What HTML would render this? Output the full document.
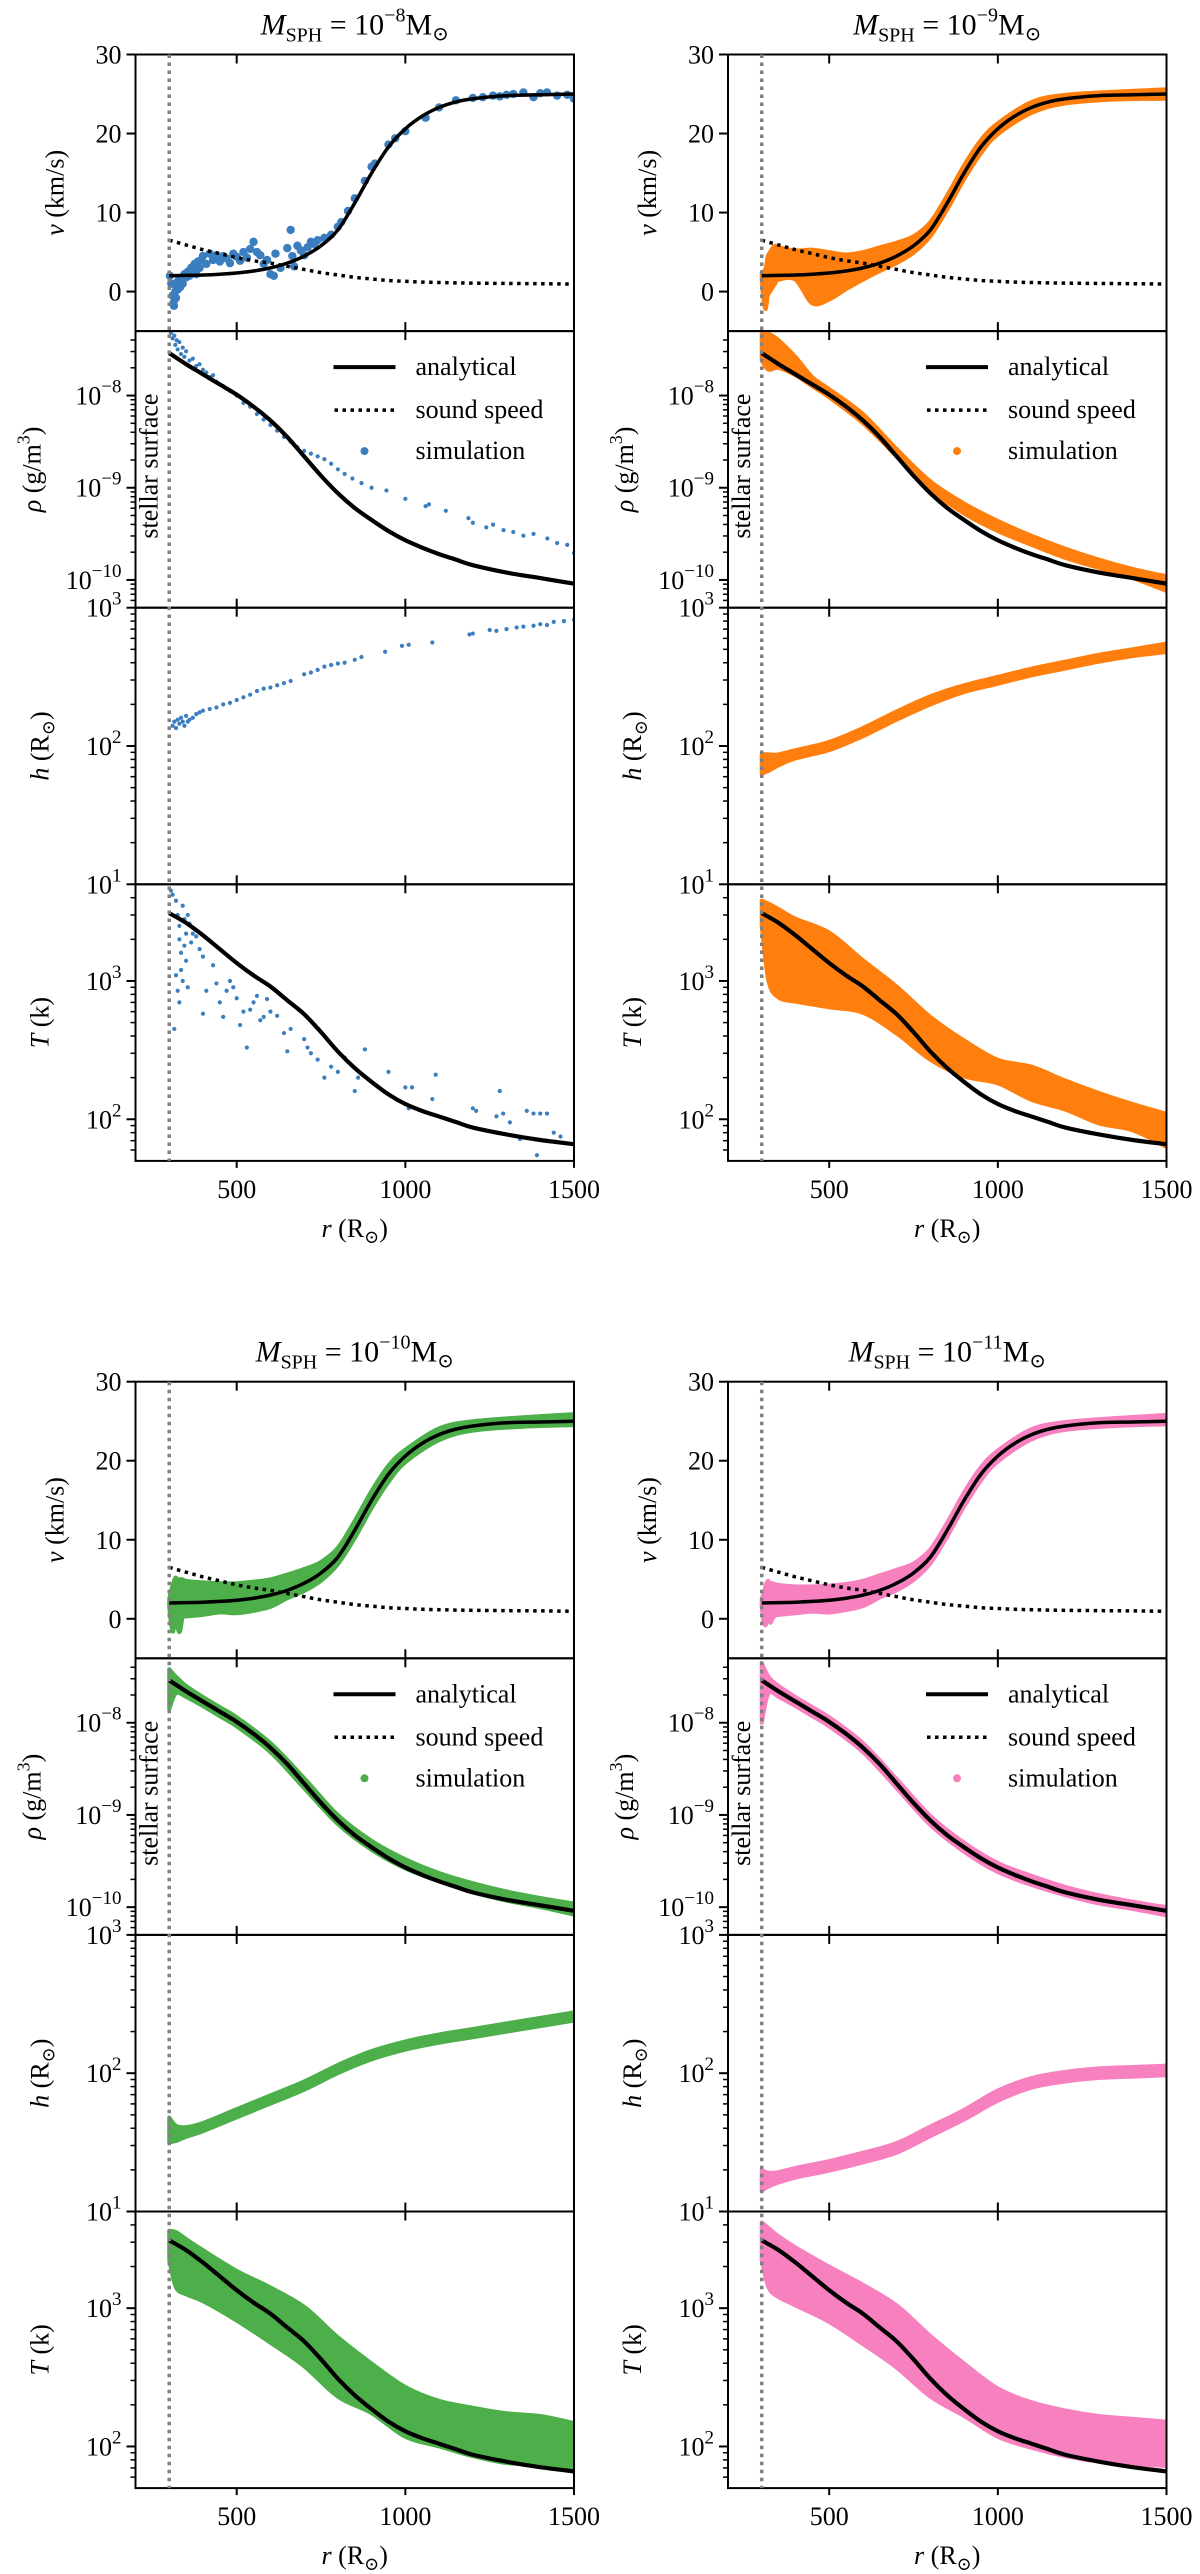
<!DOCTYPE html>
<html><head><meta charset="utf-8"><style>
html,body{margin:0;padding:0;background:#fff;}
svg{display:block;font-family:"Liberation Serif","DejaVu Serif",serif;}
</style></head><body>
<svg id="fig" width="1200" height="2574" viewBox="0 0 1200 2574" xmlns="http://www.w3.org/2000/svg">
<rect x="0" y="0" width="1200" height="2574" fill="#fff"/>
<defs id="defs"></defs>
</svg>
<script>
// ---------- analytical solution (shared) ----------
const rGrid = [300,350,400,450,500,550,600,650,700,750,800,850,900,950,1000,1050,1100,1150,1200,1300,1400,1500];
const vAnalytic = [2.0,2.05,2.1,2.2,2.35,2.6,3.0,3.6,4.5,5.8,7.8,11.2,15.0,18.3,20.6,22.2,23.3,24.0,24.4,24.8,24.9,25.0];
const csAnalytic = [6.5,5.9,5.3,4.8,4.3,3.9,3.6,3.2,2.8,2.4,2.1,1.8,1.6,1.4,1.3,1.2,1.15,1.1,1.07,1.03,1.0,0.95];
const logRhoAnalytic = [-7.54,-7.66,-7.77,-7.88,-7.99,-8.12,-8.27,-8.45,-8.66,-8.87,-9.06,-9.22,-9.35,-9.47,-9.57,-9.65,-9.72,-9.78,-9.84,-9.92,-9.98,-10.04];
const logTAnalytic = [3.49,3.42,3.33,3.23,3.13,3.04,2.96,2.86,2.76,2.63,2.49,2.37,2.27,2.18,2.11,2.06,2.02,1.98,1.94,1.89,1.85,1.82];

// ---------- tick labels ----------
const xTicks = [500,1000,1500];
const vTicks = [0,10,20,30];
const rhoTickExps = [-8,-9,-10];
const hTickExps = [1,2,3];
const tTickExps = [2,3];

// ---------- M=1e-8 (blue, sparse points) ----------
const blueV = [[302,2.0],[306,1.0],[310,-0.5],[312,-1.5],[314,-1.8],[316,-1.0],[318,0.0],[320,-0.8],[322,0.5],[324,1.2],[326,0.3],[328,1.0],[330,1.6],[333,0.6],[336,1.5],[340,1.0],[345,2.2],[350,1.8],[355,2.5],[360,2.0],[365,3.0],[370,2.5],[375,3.5],[380,2.2],[385,3.8],[390,3.0],[395,4.0],[400,4.5],[410,3.5],[420,4.8],[430,4.0],[440,4.6],[450,3.8],[460,4.5],[470,4.2],[480,3.6],[490,4.8],[500,4.4],[510,3.9],[520,5.0],[530,4.3],[540,5.4],[550,6.3],[560,5.0],[570,4.6],[580,3.5],[590,4.0],[600,2.2],[610,2.0],[615,4.8],[630,3.0],[650,5.5],[660,7.8],[665,4.5],[670,3.2],[680,5.8],[690,5.2],[700,4.6],[710,5.6],[720,6.3],[730,6.0],[740,6.5],[760,6.8],[780,7.2],[800,8.2],[810,8.8],[830,10.2],[850,11.8],[880,14.0],[900,15.8],[910,16.2],[950,18.6],[970,19.4],[1000,20.3],[1060,22.0],[1100,23.3],[1150,24.2],[1200,24.5],[1230,24.6],[1260,24.8],[1280,24.7],[1300,24.9],[1320,25.0],[1350,25.2],[1380,24.6],[1400,25.1],[1420,25.2],[1450,24.8],[1480,24.9],[1500,24.4]];
const blueLogRho = [[305,-7.32],[310,-7.38],[315,-7.35],[318,-7.45],[322,-7.40],[325,-7.50],[330,-7.42],[335,-7.55],[340,-7.48],[345,-7.58],[350,-7.52],[360,-7.62],[370,-7.60],[380,-7.68],[390,-7.66],[400,-7.72],[410,-7.75],[420,-7.80],[430,-7.78],[440,-7.85],[460,-7.90],[480,-7.95],[500,-8.0],[520,-8.08],[540,-8.12],[560,-8.20],[580,-8.26],[600,-8.32],[620,-8.38],[640,-8.45],[660,-8.50],[680,-8.56],[700,-8.60],[720,-8.63],[740,-8.66],[760,-8.69],[780,-8.74],[800,-8.80],[820,-8.85],[843,-8.90],[870,-8.95],[900,-9.00],[944,-9.03],[1000,-9.12],[1060,-9.20],[1070,-9.18],[1120,-9.25],[1187,-9.33],[1200,-9.38],[1240,-9.43],[1260,-9.40],[1291,-9.46],[1320,-9.48],[1350,-9.52],[1380,-9.50],[1421,-9.55],[1450,-9.60],[1480,-9.62],[1500,-9.71]];
const blueH = [[310,140],[315,150],[320,135],[325,155],[330,145],[335,160],[340,150],[345,140],[350,165],[355,150],[360,155],[370,160],[380,170],[390,175],[400,180],[420,185],[440,190],[460,200],[480,205],[500,215],[520,225],[540,235],[560,250],[580,260],[600,265],[620,275],[640,285],[660,295],[700,330],[720,340],[740,355],[760,375],[780,385],[800,395],[820,400],[850,420],[870,440],[940,480],[990,530],[1010,540],[1080,560],[1190,640],[1200,650],[1250,690],[1270,680],[1300,700],[1330,720],[1350,730],[1380,740],[1400,760],[1420,750],[1440,790],[1470,800],[1500,820]];
const blueT = [[305,4500],[310,4200],[320,3800],[325,3000],[330,2500],[330,2000],[335,1600],[335,1200],[340,1000],[340,3500],[345,2800],[345,1800],[350,2200],[350,1400],[355,3000],[355,900],[360,2600],[365,1900],[370,2200],[320,1100],[325,850],[330,700],[315,450],[380,2100],[390,1700],[400,1500],[410,850],[400,580],[430,1300],[440,960],[450,700],[460,550],[470,850],[480,1000],[490,900],[500,750],[510,480],[520,600],[530,330],[540,620],[550,700],[560,780],[570,520],[580,550],[590,740],[600,600],[620,560],[640,420],[650,310],[660,450],[700,380],[710,330],[720,300],[740,270],[760,200],[780,240],[800,220],[820,280],[850,160],[860,200],[880,320],[950,220],[1000,170],[1010,120],[1020,170],[1080,140],[1090,210],[1200,120],[1210,115],[1270,105],[1280,160],[1290,110],[1310,95],[1340,72],[1360,115],[1380,110],[1390,55],[1400,110],[1420,110],[1440,80],[1460,75]];

// ---------- dense simulations: band limits ----------
const vBandR = [300,305,312,318,325,332,340,350,400,450,500,550,600,650,700,750,800,850,900,950,1000,1100,1200,1350,1500];
const orangeVLo = [1.5,-1.0,-2.2,-0.5,0.0,0.5,1.0,1.5,1.5,-1.5,-1.0,0.3,1.5,2.6,3.6,4.9,7.0,10.4,14.2,17.5,19.9,22.6,23.8,24.3,24.4];
const orangeVHi = [2.5,2.5,3.0,4.5,5.0,5.5,5.8,5.6,5.2,5.3,5.0,4.7,5.0,5.6,6.2,7.0,8.8,12.2,16.0,19.2,21.3,24.0,24.9,25.3,25.6];
const greenVLo = [1.5,-0.5,-1.6,0.5,-1.2,-1.6,0.2,0.3,0.5,0.8,0.7,1.0,1.5,2.6,3.5,4.8,6.9,10.2,14.0,17.3,19.8,22.6,23.8,24.3,24.5];
const greenVHi = [2.5,3.5,4.5,5.2,5.0,5.0,5.0,4.8,4.6,4.5,4.5,4.7,5.0,5.6,6.3,7.2,9.0,12.4,16.2,19.4,21.4,24.1,25.0,25.5,25.9];
const pinkVLo = [1.5,-0.3,-0.8,0.3,-0.5,0.0,0.4,0.5,0.7,0.9,0.8,1.1,1.6,2.7,3.6,4.9,7.0,10.4,14.2,17.5,19.9,22.7,23.9,24.4,24.6];
const pinkVHi = [2.5,3.2,4.2,4.8,4.5,4.5,4.4,4.3,4.1,4.1,4.2,4.4,4.8,5.5,6.2,7.0,8.8,12.2,16.0,19.2,21.3,24.0,24.9,25.4,25.8];

const rhoBandR = [300,320,350,400,450,500,600,700,800,900,1000,1100,1200,1300,1400,1500];
const orangeRhoLo = [-7.62,-7.72,-7.70,-7.78,-7.90,-8.02,-8.30,-8.66,-9.02,-9.28,-9.47,-9.62,-9.76,-9.87,-9.98,-10.12];
const orangeRhoHi = [-7.33,-7.33,-7.40,-7.58,-7.80,-7.93,-8.20,-8.58,-8.93,-9.17,-9.36,-9.52,-9.66,-9.78,-9.88,-9.96];
const greenRhoLo = [-7.85,-7.68,-7.72,-7.82,-7.93,-8.04,-8.32,-8.71,-9.10,-9.38,-9.58,-9.72,-9.84,-9.93,-10.0,-10.08];
const greenRhoHi = [-7.42,-7.50,-7.60,-7.72,-7.83,-7.94,-8.22,-8.60,-9.00,-9.28,-9.48,-9.63,-9.74,-9.83,-9.90,-9.96];
const pinkRhoLo = [-8.0,-7.68,-7.72,-7.82,-7.93,-8.04,-8.32,-8.71,-9.11,-9.40,-9.62,-9.76,-9.87,-9.96,-10.02,-10.09];
const pinkRhoHi = [-7.35,-7.50,-7.60,-7.72,-7.83,-7.94,-8.22,-8.61,-9.01,-9.30,-9.52,-9.66,-9.78,-9.87,-9.94,-10.0];

const hBandR = [300,320,350,400,500,600,700,800,900,1000,1100,1200,1300,1400,1500];
const orangeLogHLo = [1.80,1.82,1.86,1.91,1.97,2.07,2.19,2.30,2.39,2.45,2.51,2.56,2.61,2.65,2.68];
const orangeLogHHi = [1.94,1.94,1.94,1.97,2.03,2.13,2.25,2.36,2.44,2.50,2.56,2.61,2.66,2.70,2.74];
const greenLogHLo = [1.50,1.51,1.54,1.58,1.68,1.78,1.88,2.00,2.10,2.17,2.22,2.26,2.30,2.34,2.38];
const greenLogHHi = [1.68,1.62,1.61,1.64,1.74,1.84,1.94,2.06,2.16,2.23,2.28,2.32,2.36,2.40,2.44];
const pinkLogHLo = [1.15,1.18,1.21,1.245,1.295,1.355,1.425,1.545,1.665,1.80,1.895,1.94,1.965,1.975,1.985];
const pinkLogHHi = [1.30,1.28,1.285,1.315,1.365,1.425,1.495,1.615,1.735,1.875,1.965,2.01,2.035,2.045,2.055];

const tBandR = [300,320,350,400,500,600,700,800,900,1000,1100,1200,1300,1400,1500];
const orangeLogTLo = [3.40,3.00,2.88,2.85,2.81,2.77,2.62,2.43,2.31,2.26,2.14,2.07,1.97,1.92,1.80];
const orangeLogTHi = [3.58,3.56,3.52,3.45,3.35,3.15,2.96,2.74,2.57,2.43,2.38,2.28,2.19,2.11,2.04];
const greenLogTLo = [3.35,3.15,3.10,3.05,2.91,2.75,2.58,2.36,2.24,2.07,2.00,1.93,1.88,1.87,1.85];
const greenLogTHi = [3.56,3.55,3.50,3.42,3.27,3.15,3.01,2.79,2.60,2.43,2.33,2.28,2.24,2.22,2.17];
const pinkLogTLo = [3.35,3.15,3.08,3.02,2.90,2.74,2.57,2.36,2.22,2.07,1.99,1.93,1.89,1.87,1.86];
const pinkLogTHi = [3.62,3.58,3.52,3.44,3.30,3.17,3.02,2.80,2.60,2.42,2.32,2.26,2.22,2.20,2.18];

// ---------- drawing ----------
const NS = 'http://www.w3.org/2000/svg';
const svg = document.getElementById('fig');
const defs = document.getElementById('defs');
function mk(tag, attrs, parent) {
  const e = document.createElementNS(NS, tag);
  for (const k in attrs) e.setAttribute(k, attrs[k]);
  (parent || svg).appendChild(e);
  return e;
}
const PW = 438.5, PH = 276.6;
const colX = [135.5, 728];
const blockY = [54.5, 1381.7];
const XMIN = 200, XMAX = 1500;
const yRanges = [[-5, 30], [Math.log10(5e-11), Math.log10(5e-8)], [1, 3], [Math.log10(50), Math.log10(5000)]];
function xScale(x0, r) { return x0 + (r - XMIN) / (XMAX - XMIN) * PW; }
function yScale(y0, row, val) { const [lo, hi] = yRanges[row]; return y0 + (hi - val) / (hi - lo) * PH; }
function smoothSeg(pts) {
  let d = '';
  for (let i = 0; i < pts.length - 1; i++) {
    const p0 = pts[Math.max(i - 1, 0)], p1 = pts[i], p2 = pts[i + 1], p3 = pts[Math.min(i + 2, pts.length - 1)];
    const c1 = [p1[0] + (p2[0] - p0[0]) / 6, p1[1] + (p2[1] - p0[1]) / 6];
    const c2 = [p2[0] - (p3[0] - p1[0]) / 6, p2[1] - (p3[1] - p1[1]) / 6];
    d += 'C' + c1[0].toFixed(2) + ',' + c1[1].toFixed(2) + ' ' + c2[0].toFixed(2) + ',' + c2[1].toFixed(2) + ' ' + p2[0].toFixed(2) + ',' + p2[1].toFixed(2);
  }
  return d;
}
function smooth(pts) {
  return 'M' + pts[0][0].toFixed(2) + ',' + pts[0][1].toFixed(2) + smoothSeg(pts);
}

const sims = [
  { label: '−8', color: '#3a7ebf', block: 0, col: 0, dense: false },
  { label: '−9', color: '#ff7f0e', block: 0, col: 1, dense: true, v: [orangeVLo, orangeVHi], rho: [orangeRhoLo, orangeRhoHi], h: [orangeLogHLo, orangeLogHHi], t: [orangeLogTLo, orangeLogTHi] },
  { label: '−10', color: '#4daf4a', block: 1, col: 0, dense: true, v: [greenVLo, greenVHi], rho: [greenRhoLo, greenRhoHi], h: [greenLogHLo, greenLogHHi], t: [greenLogTLo, greenLogTHi] },
  { label: '−11', color: '#f781bf', block: 1, col: 1, dense: true, v: [pinkVLo, pinkVHi], rho: [pinkRhoLo, pinkRhoHi], h: [pinkLogHLo, pinkLogHHi], t: [pinkLogTLo, pinkLogTHi] }
];
const rowNames = ['velocity', 'density', 'smoothing-length', 'temperature'];
const bandR = [vBandR, rhoBandR, hBandR, tBandR];
const yLabels = [
  '<tspan font-style="italic">v</tspan> (km/s)',
  '<tspan font-style="italic">ρ</tspan> (g/m<tspan dy="-11" font-size="18">3</tspan><tspan dy="11">)</tspan>',
  '<tspan font-style="italic">h</tspan> (R<tspan dy="6" font-size="18">⊙</tspan><tspan dy="-6">)</tspan>',
  '<tspan font-style="italic">T</tspan> (k)'
];
const yLabelOff = [72, 95, 87, 87];

sims.forEach((s, si) => {
  const x0 = colX[s.col], top = blockY[s.block];
  const g = mk('g', {});
  
  

  const title = mk('text', { x: x0 + PW / 2, y: top - 20, 'text-anchor': 'middle', 'font-size': 30 }, g);
  title.innerHTML = '<tspan font-style="italic">M</tspan><tspan font-size="20" dy="7">SPH</tspan><tspan dy="-7"> = 10</tspan><tspan dy="-13" font-size="20">' + s.label + '</tspan><tspan dy="13">M</tspan><tspan dy="6" font-size="20">⊙</tspan>';
  
  

  for (let row = 0; row < 4; row++) {
    const y0 = top + row * PH;
    const pg = mk('g', {}, g);
    
    
    const cid = 'clip' + si + '_' + row;
    const cp = mk('clipPath', { id: cid }, defs);
    mk('rect', { x: x0, y: y0, width: PW, height: PH }, cp);
    const data = mk('g', { 'clip-path': 'url(#' + cid + ')' }, pg);
    
    

    if (s.dense) {
      const key = ['v', 'rho', 'h', 't'][row];
      const [lo, hi] = s[key];
      const rr = bandR[row];
      const up = rr.map((r, i) => [xScale(x0, r), yScale(y0, row, hi[i])]);
      const dn = rr.map((r, i) => [xScale(x0, r), yScale(y0, row, lo[i])]).reverse();
      const d = smooth(up) + 'L' + dn[0][0].toFixed(2) + ',' + dn[0][1].toFixed(2) + smoothSeg(dn) + 'Z';
      const band = mk('path', { d: d, fill: s.color, stroke: s.color, 'stroke-width': 4, 'stroke-linejoin': 'round' }, data);
      
      
    } else {
      const src = [blueV, blueLogRho, blueH, blueT][row];
      const rad = row === 0 ? 4.2 : 2.1;
      src.forEach(([r, val]) => {
        const yv = row >= 2 ? Math.log10(val) : val;
        const c = mk('circle', { cx: xScale(x0, r), cy: yScale(y0, row, yv), r: rad, fill: s.color }, data);
        
        
      });
    }

    if (row !== 2) {
      const arr = [vAnalytic, logRhoAnalytic, null, logTAnalytic][row];
      const line = mk('path', { d: smooth(rGrid.map((r, i) => [xScale(x0, r), yScale(y0, row, arr[i])])), fill: 'none', stroke: '#000', 'stroke-width': row === 0 ? 3.5 : 4.2 }, data);
      
      
    }
    if (row === 0) {
      const cs = mk('path', { d: smooth(rGrid.map((r, i) => [xScale(x0, r), yScale(y0, row, csAnalytic[i])])), fill: 'none', stroke: '#000', 'stroke-width': 3.5, 'stroke-dasharray': '3.5 4.5' }, data);
      
      
    }

    const frame = mk('rect', { x: x0, y: y0, width: PW, height: PH, fill: 'none', stroke: '#000', 'stroke-width': 2 }, pg);
    
    

    xTicks.forEach(r => {
      const xx = xScale(x0, r);
      const t1 = mk('line', { x1: xx, x2: xx, y1: y0, y2: y0 + 9, stroke: '#000', 'stroke-width': 2 }, pg);
      
      
      const yb = y0 + PH;
      const t2 = mk('line', { x1: xx, x2: xx, y1: row === 3 ? yb : yb - 9, y2: row === 3 ? yb + 7 : yb, stroke: '#000', 'stroke-width': 2 }, pg);
      
      
      if (row === 3) {
        const tl = mk('text', { x: xx, y: yb + 37, 'text-anchor': 'middle', 'font-size': 26 }, pg);
        tl.textContent = String(r);
        
        
      }
    });

    const major = (yv, html) => {
      const yy = yScale(y0, row, yv);
      const t = mk('line', { x1: x0 - 9, x2: x0, y1: yy, y2: yy, stroke: '#000', 'stroke-width': 2 }, pg);
      
      
      const tl = mk('text', { x: x0 - 14, y: yy + 9, 'text-anchor': 'end', 'font-size': 26 }, pg);
      tl.innerHTML = html;
      
      
    };
    if (row === 0) {
      vTicks.forEach(v => major(v, String(v)));
    } else {
      const exps = [null, rhoTickExps, hTickExps, tTickExps][row];
      exps.forEach(e => major(e, '10<tspan dy="-12" font-size="19">' + String(e).replace('-', '−') + '</tspan>'));
      const [lo, hi] = yRanges[row];
      for (let d = Math.floor(lo); d <= Math.ceil(hi); d++) {
        for (let m = 2; m <= 9; m++) {
          const lv = d + Math.log10(m);
          if (lv <= lo + 1e-6 || lv >= hi - 1e-6) continue;
          const yy = yScale(y0, row, lv);
          const mt = mk('line', { x1: x0 - 5, x2: x0, y1: yy, y2: yy, stroke: '#000', 'stroke-width': 1.5 }, pg);
          
          
        }
      }
    }

    const ylx = x0 - yLabelOff[row], yly = y0 + PH / 2;
    const yl = mk('text', { x: ylx, y: yly, 'text-anchor': 'middle', 'font-size': 26, transform: 'rotate(-90 ' + ylx + ' ' + yly + ')' }, pg);
    yl.innerHTML = yLabels[row];
    
    

    if (row === 1) {
      const lg = mk('g', {}, pg);
      
      
      const rows = [y0 + 36, y0 + 79, y0 + 120];
      const l1 = mk('line', { x1: x0 + 198, x2: x0 + 260, y1: rows[0], y2: rows[0], stroke: '#000', 'stroke-width': 4 }, lg);
      
      
      const l2 = mk('line', { x1: x0 + 199, x2: x0 + 260, y1: rows[1], y2: rows[1], stroke: '#000', 'stroke-width': 3.5, 'stroke-dasharray': '3.5 4.5' }, lg);
      
      
      const l3 = mk('circle', { cx: x0 + 229, cy: rows[2], r: 4, fill: s.color }, lg);
      
      
      ['analytical', 'sound speed', 'simulation'].forEach((t, i) => {
        const tx = mk('text', { x: x0 + 280, y: rows[i] + 8, 'font-size': 26 }, lg);
        tx.textContent = t;
        
        
      });
      const sx = x0 + 22, sy = y0 + 135;
      const st = mk('text', { x: sx, y: sy, 'text-anchor': 'middle', 'font-size': 26, transform: 'rotate(-90 ' + sx + ' ' + sy + ')' }, pg);
      st.textContent = 'stellar surface';
      
      
    }
  }

  const sxl = xScale(x0, 300);
  const vl = mk('line', { x1: sxl, x2: sxl, y1: top, y2: top + 4 * PH, stroke: '#808080', 'stroke-width': 3.5, 'stroke-dasharray': '3.5 4.5' }, g);
  
  

  const xl = mk('text', { x: x0 + PW / 2, y: top + 4 * PH + 76, 'text-anchor': 'middle', 'font-size': 26 }, g);
  xl.innerHTML = '<tspan font-style="italic">r</tspan> (R<tspan dy="6" font-size="18">⊙</tspan><tspan dy="-6">)</tspan>';
  
  
});
</script>
</body></html>
